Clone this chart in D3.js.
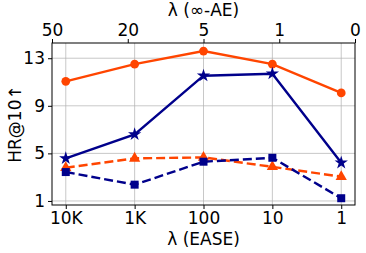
<!DOCTYPE html>
<html>
<head>
<meta charset="utf-8">
<script src="https://cdn.jsdelivr.net/npm/d3@7"></script>
<style>
  body { margin: 0; background: #fff; }
  text { font-family: "DejaVu Sans", sans-serif; fill: #000; }
</style>
</head>
<body>
<div id="chart"></div>
<script>
const easeLabels = ["10K", "1K", "100", "10", "1"]
const aeLabels = ["50", "20", "5", "1", "0"]
const yTicks = [1, 5, 9, 13]

const orangeSolid = [11.06, 12.5, 13.6, 12.5, 10.08]
const blueSolid = [4.58, 6.6, 11.53, 11.7, 4.21]
const orangeDash = [3.79, 4.58, 4.66, 3.87, 3.04]
const blueDash = [3.43, 2.37, 4.3, 4.63, 1.23]

const W = 366, H = 253
const margin = { top: 43, right: 11, bottom: 48, left: 52 }
const iw = W - margin.left - margin.right
const ih = H - margin.top - margin.bottom
const fs = "17px"

const svg = d3.select("#chart").append("svg")
  .attr("width", W).attr("height", H)

const g = svg.append("g").attr("transform", `translate(${margin.left},${margin.top})`)

const x = d3.scalePoint().domain(easeLabels).range([0, iw]).padding(0.2)
const xTop = d3.scalePoint().domain(aeLabels).range([0, iw])
const y = d3.scaleLinear().domain([0.66, 14.28]).range([ih, 0])

// grid
g.append("g").selectAll("line").data(easeLabels).join("line")
  .attr("x1", d => x(d)).attr("x2", d => x(d))
  .attr("y1", 0).attr("y2", ih)
  .attr("stroke", "#b0b0b0").attr("stroke-opacity", 0.7).attr("stroke-width", 1)
g.append("g").selectAll("line").data(yTicks).join("line")
  .attr("x1", 0).attr("x2", iw)
  .attr("y1", d => y(d)).attr("y2", d => y(d))
  .attr("stroke", "#b0b0b0").attr("stroke-opacity", 0.7).attr("stroke-width", 1)

const series = [
  { values: orangeSolid, color: "#ff4500", dash: null, marker: d3.symbolCircle, size: 60 },
  { values: blueSolid, color: "#00008b", dash: null, marker: d3.symbolStar, size: 55 },
  { values: orangeDash, color: "#ff4500", dash: "9,4", marker: d3.symbolTriangle, size: 55 },
  { values: blueDash, color: "#00008b", dash: "9,4", marker: d3.symbolSquare, size: 64 }
]

const line = d3.line().x((d, i) => x(easeLabels[i])).y(d => y(d))

series.forEach(s => {
  g.append("path").datum(s.values)
    .attr("d", line)
    .attr("fill", "none")
    .attr("stroke", s.color)
    .attr("stroke-width", 2.4)
    .attr("stroke-dasharray", s.dash)
  g.append("g").selectAll("path").data(s.values).join("path")
    .attr("transform", (d, i) => `translate(${x(easeLabels[i])},${y(d)})`)
    .attr("d", d3.symbol(s.marker, s.size))
    .attr("fill", s.color)
})

// frame
g.append("rect").attr("width", iw).attr("height", ih)
  .attr("fill", "none").attr("stroke", "#000").attr("stroke-width", 1)

// axes
const xAxis = g.append("g").attr("transform", `translate(0,${ih})`)
  .call(d3.axisBottom(x).tickSize(4).tickPadding(3))
const xTopAxis = g.append("g")
  .call(d3.axisTop(xTop).tickSize(4).tickPadding(3))
const yAxis = g.append("g")
  .call(d3.axisLeft(y).tickValues(yTicks).tickSize(4).tickPadding(3))

;[xAxis, xTopAxis, yAxis].forEach(a => {
  a.select(".domain").remove()
  a.selectAll("text").style("font-size", fs).style("font-family", "DejaVu Sans")
})

svg.append("text")
  .attr("x", margin.left + iw / 2).attr("y", 245)
  .attr("text-anchor", "middle").style("font-size", fs)
  .text("λ (EASE)")
svg.append("text")
  .attr("x", margin.left + iw / 2).attr("y", 16)
  .attr("text-anchor", "middle").style("font-size", fs)
  .text("λ (∞-AE)")
svg.append("text")
  .attr("transform", `translate(21,${margin.top + ih / 2}) rotate(-90)`)
  .attr("text-anchor", "middle").style("font-size", fs)
  .text("HR@10↑")
</script>
</body>
</html>
